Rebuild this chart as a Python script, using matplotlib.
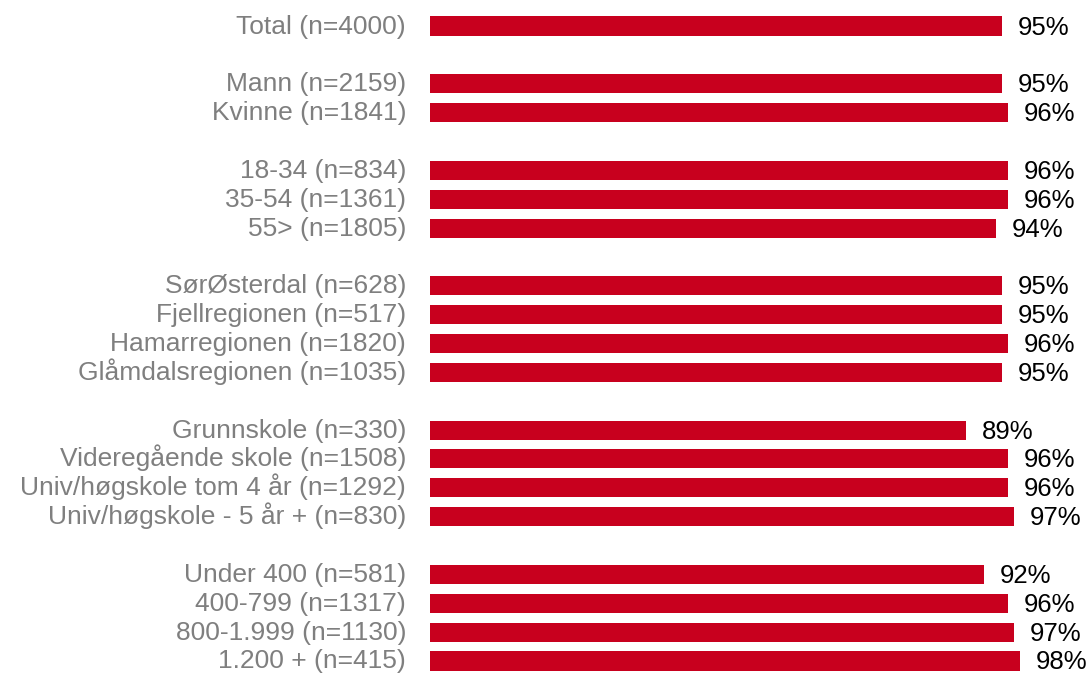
import matplotlib
matplotlib.use("Agg")
import matplotlib.pyplot as plt

plt.rcParams['font.family'] = ['Liberation Sans', 'DejaVu Sans']

groups = [
    ["Total (n=4000)"],
    ["Mann (n=2159)", "Kvinne (n=1841)"],
    ["18-34 (n=834)", "35-54 (n=1361)", "55> (n=1805)"],
    ["SørØsterdal (n=628)", "Fjellregionen (n=517)", "Hamarregionen (n=1820)", "Glåmdalsregionen (n=1035)"],
    ["Grunnskole (n=330)", "Videregående skole (n=1508)", "Univ/høgskole tom 4 år (n=1292)", "Univ/høgskole - 5 år + (n=830)"],
    ["Under 400 (n=581)", "400-799 (n=1317)", "800-1.999 (n=1130)", "1.200 + (n=415)"],
]
values = [
    [95],
    [95, 96],
    [96, 96, 94],
    [95, 95, 96, 95],
    [89, 96, 96, 97],
    [92, 96, 97, 98],
]

labels, vals, pos = [], [], []
p = 0
for g, v in zip(groups, values):
    for lab, val in zip(g, v):
        labels.append(lab)
        vals.append(val)
        pos.append(p)
        p += 1
    p += 1
last = pos[-1]

W, H = 1089, 673
fig = plt.figure(figsize=(W / 100, H / 100), dpi=100)
ax = fig.add_axes([430 / W, 0, 602 / W, 1])
bar_color = '#C8001E'
ax.barh(pos, vals, height=0.66, color=bar_color)
ax.set_xlim(0, 100)
ax.set_ylim(last + 12 / 28.86, -26 / 28.86)
ax.axis('off')

for y, lab, v in zip(pos, labels, vals):
    ax.annotate(lab, xy=(0, y), xytext=(-24, -7.5), textcoords='offset pixels',
                ha='right', va='baseline', fontsize=19, color='#7F7F7F',
                annotation_clip=False)
    ax.annotate(f"{v}%", xy=(v, y), xytext=(16, -8.5), textcoords='offset pixels',
                ha='left', va='baseline', fontsize=18.5, color='black',
                annotation_clip=False)

fig.savefig('out.png', dpi=100)
